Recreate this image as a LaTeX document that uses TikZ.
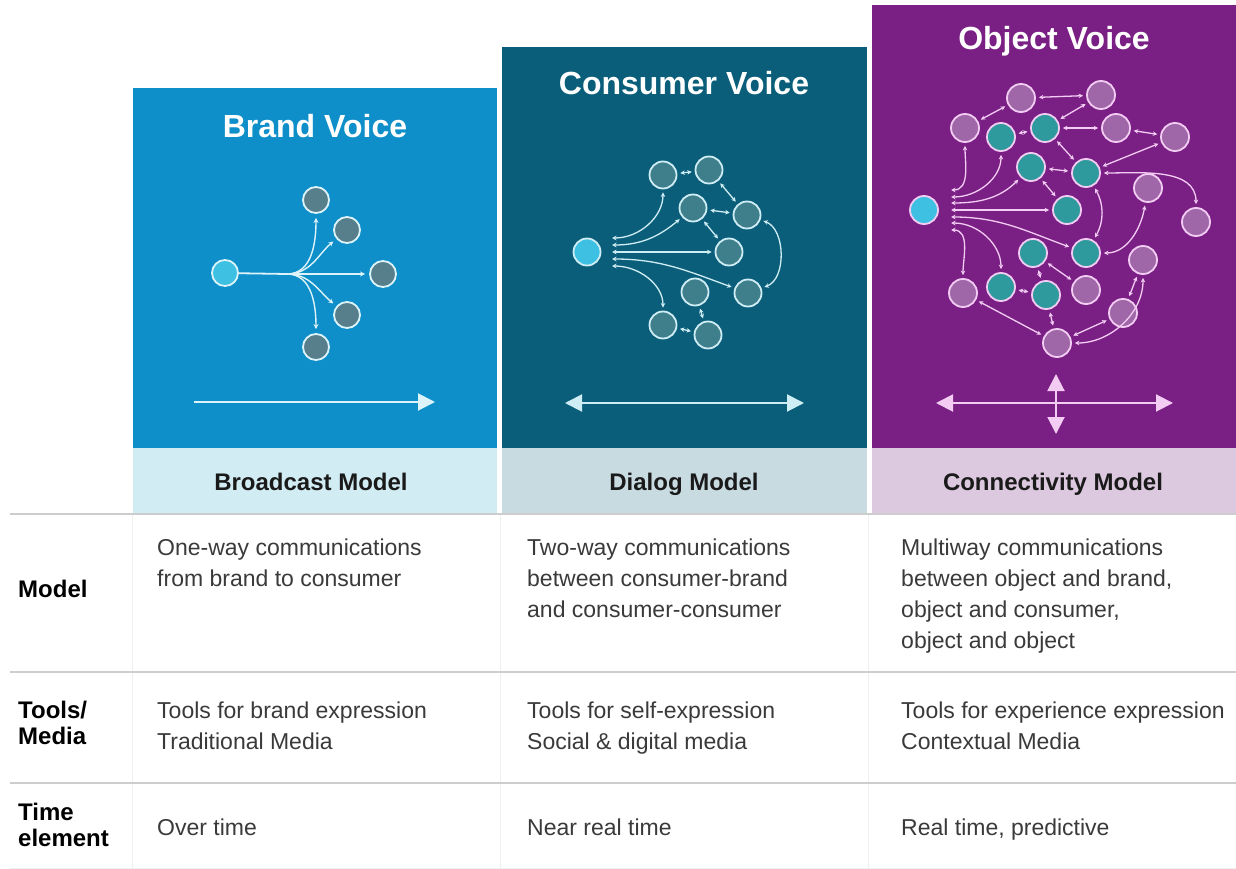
\documentclass[tikz,border=0pt]{standalone}
\usepackage{fontspec}
\setmainfont{Liberation Sans}
\usetikzlibrary{arrows.meta}
\definecolor{cA}{HTML}{0F8FC9}
\definecolor{bandA}{HTML}{D2ECF4}
\definecolor{cB}{HTML}{0B5E7A}
\definecolor{bandB}{HTML}{C8DBE1}
\definecolor{cC}{HTML}{7A1F84}
\definecolor{bandC}{HTML}{DCC8DF}
\definecolor{lnA}{HTML}{DDF3FA}
\definecolor{fillA}{HTML}{567F8B}
\definecolor{srcfill}{HTML}{3EC0E2}
\definecolor{lnB}{HTML}{CFEDF4}
\definecolor{fillB}{HTML}{3F7E8B}
\definecolor{lnC}{HTML}{F2CCF3}
\definecolor{fillP}{HTML}{9F66A8}
\definecolor{fillT}{HTML}{2F9A9D}
\definecolor{bodytext}{HTML}{3A3A3A}
\definecolor{bandtext}{HTML}{1A1A1A}
\definecolor{rulecol}{HTML}{CDCDCD}
\definecolor{vrule}{HTML}{EFEFEF}
\begin{document}
\begin{tikzpicture}[x=1pt,y=-1pt,
  titletext/.style={font=\fontsize{32}{36}\selectfont\bfseries, text=white, anchor=base, inner sep=0},
  bandlabel/.style={font=\fontsize{24}{28}\selectfont\bfseries, text=bandtext, anchor=base, inner sep=0},
  bodyline/.style={font=\fontsize{23}{28}\selectfont, text=bodytext, anchor=base west, inner sep=0},
  rowlabel/.style={font=\fontsize{24}{28}\selectfont\bfseries, text=black, anchor=base west, inner sep=0},
  dotA/.style={circle, minimum size=26pt, inner sep=0, fill=fillA, draw=lnA, line width=1.8pt},
  dotB/.style={circle, minimum size=27pt, inner sep=0, fill=fillB, draw=lnB, line width=1.8pt},
  dotP/.style={circle, minimum size=28pt, inner sep=0, fill=fillP, draw=lnC, line width=1.8pt},
  dotT/.style={circle, minimum size=28pt, inner sep=0, fill=fillT, draw=lnC, line width=1.8pt},
  srcA/.style={circle, minimum size=26pt, inner sep=0, fill=srcfill, draw=lnA, line width=1.8pt},
  srcB/.style={circle, minimum size=27pt, inner sep=0, fill=srcfill, draw=lnB, line width=1.8pt},
  srcC/.style={circle, minimum size=28pt, inner sep=0, fill=srcfill, draw=lnC, line width=1.8pt},
  wireA/.style={draw=lnA, line width=1.4pt, shorten >=4pt, -{Stealth[length=5pt,width=5pt]}},
  wireB/.style={draw=lnB, line width=1.3pt, shorten >=3pt, shorten <=3pt, {Stealth[length=4.5pt,width=4.5pt]}-{Stealth[length=4.5pt,width=4.5pt]}},
  wireC/.style={draw=lnC, line width=1.3pt, shorten >=3pt, shorten <=3pt, {Stealth[length=4.5pt,width=4.5pt]}-{Stealth[length=4.5pt,width=4.5pt]}},
  bigA/.style={draw=lnA, line width=2pt, -{Triangle[length=17pt,width=17pt]}},
  bigB/.style={draw=lnB, line width=2pt, {Triangle[length=17pt,width=17pt]}-{Triangle[length=17pt,width=17pt]}},
  bigC/.style={draw=lnC, line width=2pt, {Triangle[length=17pt,width=17pt]}-{Triangle[length=17pt,width=17pt]}}
]
\path[use as bounding box, fill=white] (0,0) rectangle (1236,869);

% ---------- panels ----------
\fill[cA] (133,88) rectangle (497,448);
\fill[bandA] (133,448) rectangle (497,513);
\fill[cB] (502,47) rectangle (867,448);
\fill[bandB] (502,448) rectangle (867,513);
\fill[cC] (872,5) rectangle (1236,448);
\fill[bandC] (872,448) rectangle (1236,513);

\node[titletext] (t1) at (315,138) {Brand Voice};
\node[titletext] (t2) at (684,95) {Consumer Voice};
\node[titletext] (t3) at (1054,50) {Object Voice};

\node[bandlabel] (b1) at (311,490) {Broadcast Model};
\node[bandlabel] (b2) at (684,490) {Dialog Model};
\node[bandlabel] (b3) at (1053,490) {Connectivity Model};

% ---------- panel 1: broadcast ----------
\node[srcA] (s1) at (225,273) {};
\node[dotA] (a1) at (316,200) {};
\node[dotA] (a2) at (347,230) {};
\node[dotA] (a3) at (383,274) {};
\node[dotA] (a4) at (347,315) {};
\node[dotA] (a5) at (316,347) {};
\coordinate (br1) at (287,274);
\draw[draw=lnA, line width=1.8pt] (s1) -- (br1);
\draw[wireA] (br1) to[out=0,in=-90] (a1);
\draw[wireA] (br1) to[out=0,in=-140] (a2);
\draw[wireA] (br1) -- (a3);
\draw[wireA] (br1) to[out=0,in=140] (a4);
\draw[wireA] (br1) to[out=0,in=90] (a5);
\coordinate (p1l) at (194,402);
\coordinate (p1r) at (435,402);
\draw[bigA] (p1l) -- (p1r);

% ---------- panel 2: dialog ----------
\node[srcB] (s2) at (587,252) {};
\node[dotB] (dA) at (663,175) {};
\node[dotB] (dB) at (709,170) {};
\node[dotB] (dC) at (693,208) {};
\node[dotB] (dD) at (747,215) {};
\node[dotB] (dE) at (729,252) {};
\node[dotB] (dF) at (748,293) {};
\node[dotB] (dG) at (695,292) {};
\node[dotB] (dH) at (663,325) {};
\node[dotB] (dI) at (708,335) {};
\coordinate (q1) at (612,238);
\coordinate (q2) at (612,245);
\coordinate (q3) at (612,252);
\coordinate (q4) at (612,259);
\coordinate (q5) at (612,266);
\draw[wireB, shorten <=0pt] (q1) to[out=0,in=-90] (dA);
\draw[wireB, shorten <=0pt] (q2) to[out=0,in=-140] (dC);
\draw[wireB, shorten <=0pt] (q3) -- (dE);
\draw[wireB, shorten <=0pt] (q4) to[out=0,in=160] (dF);
\draw[wireB, shorten <=0pt] (q5) to[out=0,in=90] (dH);
\draw[wireB] (dA) -- (dB);
\draw[wireB] (dB) -- (dD);
\draw[wireB] (dC) -- (dD);
\draw[wireB] (dC) -- (dE);
\draw[wireB] (dD) to[out=-20,in=20] (dF);
\draw[wireB] (dG) -- (dI);
\draw[wireB] (dH) -- (dI);
\coordinate (p2l) at (565,403);
\coordinate (p2r) at (804,403);
\draw[bigB] (p2l) -- (p2r);

% ---------- panel 3: connectivity ----------
\node[srcC] (s3) at (924,210) {};
\node[dotP] (P1) at (1021,98) {};
\node[dotP] (P2) at (1101,95) {};
\node[dotP] (P3) at (965,128) {};
\node[dotT] (T1) at (1001,137) {};
\node[dotT] (T2) at (1045,128) {};
\node[dotP] (P4) at (1116,128) {};
\node[dotP] (P5) at (1175,137) {};
\node[dotT] (T3) at (1031,167) {};
\node[dotT] (T4) at (1086,173) {};
\node[dotP] (P6) at (1148,188) {};
\node[dotT] (T5) at (1067,210) {};
\node[dotP] (P7) at (1196,222) {};
\node[dotT] (T6) at (1033,253) {};
\node[dotT] (T7) at (1086,253) {};
\node[dotP] (P8) at (1143,260) {};
\node[dotP] (P9) at (963,293) {};
\node[dotT] (T8) at (1001,287) {};
\node[dotT] (T9) at (1046,295) {};
\node[dotP] (P10) at (1086,290) {};
\node[dotP] (P11) at (1123,313) {};
\node[dotP] (P12) at (1057,343) {};
\coordinate (r1) at (951,190);
\coordinate (r2) at (951,197);
\coordinate (r3) at (951,203);
\coordinate (r4) at (951,210);
\coordinate (r5) at (951,217);
\coordinate (r6) at (951,223);
\coordinate (r7) at (951,230);
\draw[wireC, shorten <=0pt] (r1) to[out=0,in=-90] (P3);
\draw[wireC, shorten <=0pt] (r2) to[out=0,in=-90] (T1);
\draw[wireC, shorten <=0pt] (r3) to[out=0,in=-135] (T3);
\draw[wireC, shorten <=0pt] (r4) -- (T5);
\draw[wireC, shorten <=0pt] (r5) to[out=0,in=160] (T7);
\draw[wireC, shorten <=0pt] (r6) to[out=0,in=90] (T8);
\draw[wireC, shorten <=0pt] (r7) to[out=0,in=90] (P9);
\draw[wireC] (P3) -- (P1);
\draw[wireC] (P1) -- (P2);
\draw[wireC] (T1) -- (T2);
\draw[wireC] (T2) -- (P2);
\draw[wireC] (T2) -- (P4);
\draw[wireC] (P4) -- (P5);
\draw[wireC] (T2) -- (T4);
\draw[wireC] (P5) -- (T4);
\draw[wireC] (T3) -- (T4);
\draw[wireC] (T3) -- (T5);
\draw[wireC] (T4) to[out=0,in=90] (P7);
\draw[wireC] (T4) to[out=-60,in=60] (T7);
\draw[wireC] (T7) to[out=0,in=-100] (P6);
\draw[wireC] (T6) -- (T9);
\draw[wireC] (T6) -- (P10);
\draw[wireC] (T8) -- (T9);
\draw[wireC] (T9) -- (P12);
\draw[wireC] (P9) -- (P12);
\draw[wireC] (P12) -- (P11);
\draw[wireC] (P11) -- (P8);
\draw[wireC] (P12) to[out=0,in=-90] (P8);
\coordinate (p3l) at (936,403);
\coordinate (p3r) at (1173,403);
\coordinate (p3u) at (1056,374);
\coordinate (p3d) at (1056,434);
\draw[bigC] (p3l) -- (p3r);
\draw[bigC] (p3u) -- (p3d);

% ---------- table ----------
\draw[vrule, line width=1pt] (132,515) -- (132,869);
\draw[vrule, line width=1pt] (500,515) -- (500,869);
\draw[vrule, line width=1pt] (868,515) -- (868,869);
\draw[rulecol, line width=1.5pt] (10,514) -- (1236,514);
\draw[rulecol, line width=1.5pt] (10,672) -- (1236,672);
\draw[rulecol, line width=1.5pt] (10,783) -- (1236,783);
\draw[vrule, line width=1pt] (10,868) -- (1236,868);

\node[rowlabel] (l1) at (18,597) {Model};
\node[rowlabel] (l2a) at (18,718) {Tools/};
\node[rowlabel] (l2b) at (18,744) {Media};
\node[rowlabel] (l3a) at (18,820) {Time};
\node[rowlabel] (l3b) at (18,846) {element};

\node[bodyline] (m11) at (157,555) {One-way communications};
\node[bodyline] (m12) at (157,586) {from brand to consumer};
\node[bodyline] (m21) at (527,555) {Two-way communications};
\node[bodyline] (m22) at (527,586) {between consumer-brand};
\node[bodyline] (m23) at (527,617) {and consumer-consumer};
\node[bodyline] (m31) at (901,555) {Multiway communications};
\node[bodyline] (m32) at (901,586) {between object and brand,};
\node[bodyline] (m33) at (901,617) {object and consumer,};
\node[bodyline] (m34) at (901,648) {object and object};

\node[bodyline] (k11) at (157,718) {Tools for brand expression};
\node[bodyline] (k12) at (157,749) {Traditional Media};
\node[bodyline] (k21) at (527,718) {Tools for self-expression};
\node[bodyline] (k22) at (527,749) {Social \& digital media};
\node[bodyline] (k31) at (901,718) {Tools for experience expression};
\node[bodyline] (k32) at (901,749) {Contextual Media};

\node[bodyline] (e1) at (157,835) {Over time};
\node[bodyline] (e2) at (527,835) {Near real time};
\node[bodyline] (e3) at (901,835) {Real time, predictive};
\end{tikzpicture}
\end{document}
